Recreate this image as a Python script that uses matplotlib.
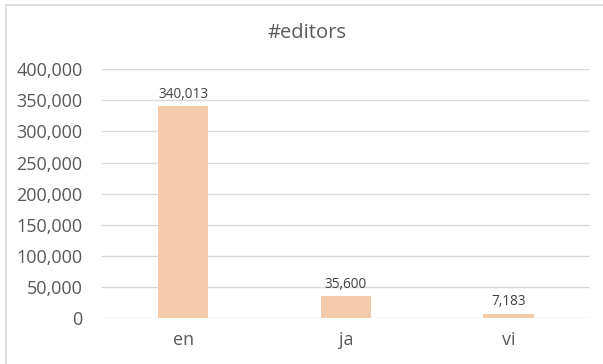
import matplotlib
matplotlib.use("Agg")
import matplotlib.pyplot as plt
from matplotlib.patches import Rectangle
from matplotlib.ticker import FuncFormatter

categories = ["en", "ja", "vi"]
editors = [340013, 35600, 7183]
yticks = [0, 50000, 100000, 150000, 200000, 250000, 300000, 350000, 400000]

plt.rcParams['font.family'] = ['Open Sans', 'DejaVu Sans']
text_color = "#595959"

fig = plt.figure(figsize=(6.03, 3.64), dpi=100)
fig.patches.append(Rectangle((0.010, -0.01), 1.0, 0.997, transform=fig.transFigure,
                             fill=False, edgecolor="#d9d9d9", linewidth=1.2))
ax = fig.add_axes([0.169, 0.126, 0.809, 0.684])

x = range(len(categories))
bars = ax.bar(x, editors, width=0.31, color="#F4CCAC", zorder=3)
for xi, v in zip(x, editors):
    ax.text(xi, v + 7000, f"{v:,}", ha="center", va="bottom", fontsize=9.8, color="#404040")

ax.set_xlim(-0.5, 2.5)
ax.set_ylim(0, 400000)
ax.set_yticks(yticks)
ax.yaxis.set_major_formatter(FuncFormatter(lambda v, p: f"{int(v):,}"))
ax.set_xticks(list(x))
ax.set_xticklabels(categories)
ax.grid(axis="y", color="#d9d9d9", linewidth=1, zorder=0)
for s in ax.spines.values():
    s.set_visible(False)
ax.tick_params(axis="both", length=0, labelsize=13, colors=text_color)
ax.tick_params(axis="y", pad=14)
ax.tick_params(axis="x", pad=9)
fig.text(0.509, 1 - 33 / 364, "#editors", fontsize=14.5, color=text_color,
         ha="center", va="center")

fig.savefig("out.png", dpi=100)
